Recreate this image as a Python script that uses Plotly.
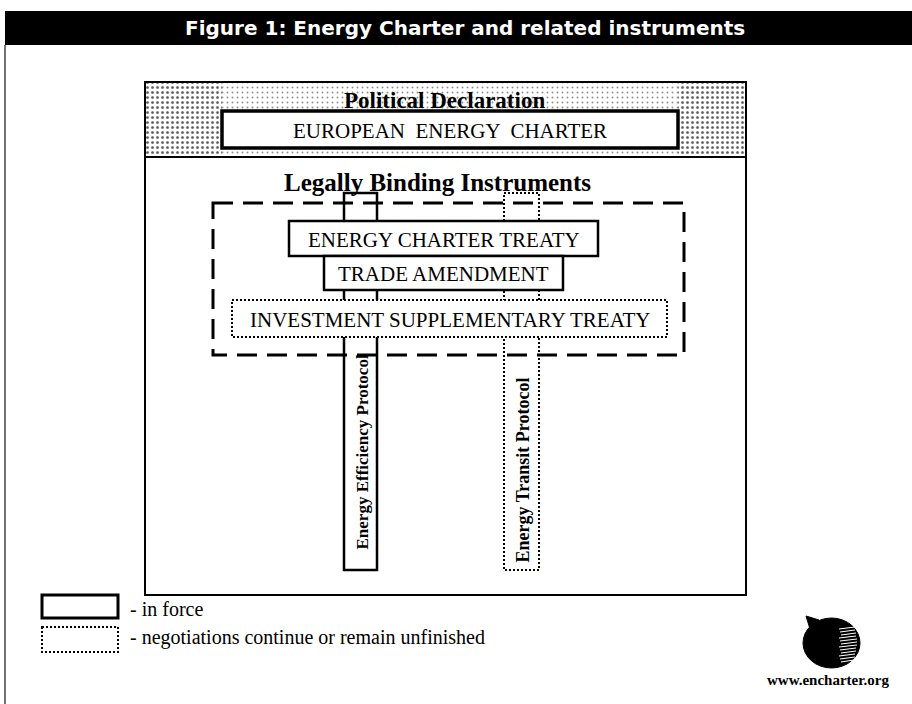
import plotly.graph_objects as go

# ---- content (texts) ----
title_text = "Figure 1: Energy Charter and related instruments"
declaration_label = "Political Declaration"
charter_label = "EUROPEAN  ENERGY  CHARTER"
binding_label = "Legally Binding Instruments"
instrument_labels = ["ENERGY CHARTER TREATY", "TRADE AMENDMENT", "INVESTMENT SUPPLEMENTARY TREATY"]
instrument_status = ["in force", "in force", "unfinished"]
protocol_labels = ["Energy Efficiency Protocol", "Energy Transit Protocol"]
protocol_status = ["in force", "unfinished"]
legend_status = ["in force", "unfinished"]
legend_labels = ["- in force", "- negotiations continue or remain unfinished"]
url_label = "www.encharter.org"

# ---- geometry (pixel layout of the diagram) ----
W, H = 912, 704
main_box = (145, 82, 746, 595)
band_bottom = 157
charter_box = (222, 111, 678, 148)
binding_y = 182
dashed_box = (213, 203, 684, 355)
instrument_boxes = [(289, 221, 598, 256), (324, 256, 563, 290), (232, 300, 667, 337)]
protocol_cols = [(344, 193, 377, 570), (504, 193, 539, 570)]
protocol_text_y = [452, 470]
protocol_font = [17, 18]
legend_boxes = [(42, 595, 118, 618), (42, 627, 118, 652)]
legend_text_y = [609, 637]
logo_box = (803, 618, 860, 668)

SERIF = "Liberation Serif, Times New Roman, serif"

shapes = []
annotations = []


def line_style(status, width=2.5):
    if status == "in force":
        return dict(color="black", width=width, dash="solid")
    return dict(color="black", width=2, dash="2px,2px")


# frame: title bar + left rule
shapes.append(dict(type="rect", x0=5, y0=11, x1=W, y1=45, fillcolor="black", line=dict(width=0), layer="below"))
shapes.append(dict(type="line", x0=5, y0=45, x1=5, y1=H, line=dict(color="#444", width=1.5)))

annotations.append(dict(x=465, y=28, text="<b>" + title_text + "</b>", showarrow=False,
                        font=dict(family="DejaVu Sans, sans-serif", size=20, color="white"),
                        xanchor="center", yanchor="middle"))

# main box and the political declaration band
mx0, my0, mx1, my1 = main_box
shapes.append(dict(type="rect", x0=mx0, y0=my0, x1=mx1, y1=my1, line=dict(color="black", width=2),
                   fillcolor="rgba(0,0,0,0)", layer="above"))
shapes.append(dict(type="line", x0=mx0, y0=band_bottom, x1=mx1, y1=band_bottom, line=dict(color="black", width=2)))

# speckled texture of the band via bar patterns
fig = go.Figure()
band_parts = [
    (mx0, mx1, 0.12),
    (mx0, charter_box[0], 0.3),
    (charter_box[2], mx1, 0.3),
]
for bx0, bx1, sol in band_parts:
    fig.add_trace(go.Bar(x=[(bx0 + bx1) / 2], y=[band_bottom - my0], base=[my0], width=[bx1 - bx0],
                         marker=dict(color="white", line=dict(width=0),
                                     pattern=dict(shape=".", fgcolor="#222", bgcolor="rgba(0,0,0,0)",
                                                  size=5, solidity=sol)),
                         hoverinfo="skip", showlegend=False))

cx0, cy0, cx1, cy1 = charter_box
shapes.append(dict(type="rect", x0=cx0, y0=cy0, x1=cx1, y1=cy1, fillcolor="white",
                   line=dict(color="black", width=3.5), layer="above"))
annotations.append(dict(x=(cx0 + cx1) / 2, y=(cy0 + cy1) / 2 + 1, text=charter_label, showarrow=False,
                        font=dict(family=SERIF, size=21, color="black"), xanchor="center", yanchor="middle"))
annotations.append(dict(x=444, y=100, text="<b>" + declaration_label + "</b>", showarrow=False,
                        font=dict(family=SERIF, size=23, color="black"), xanchor="center", yanchor="middle"))

annotations.append(dict(x=437, y=binding_y, text="<b>" + binding_label + "</b>", showarrow=False,
                        font=dict(family=SERIF, size=25, color="black"), xanchor="center", yanchor="middle"))

# protocol columns (drawn first, boxes cover them)
for (px0, py0, px1, py1), st, lab, ty, fs in zip(protocol_cols, protocol_status, protocol_labels,
                                                  protocol_text_y, protocol_font):
    shapes.append(dict(type="rect", x0=px0, y0=py0, x1=px1, y1=py1, fillcolor="rgba(0,0,0,0)",
                       line=line_style(st, 2.5), layer="above"))
    annotations.append(dict(x=(px0 + px1) / 2 + 1, y=ty, text="<b>" + lab + "</b>", textangle=-90,
                            showarrow=False, font=dict(family=SERIF, size=fs, color="black"),
                            xanchor="center", yanchor="middle"))

# dashed legally-binding frame
dx0, dy0, dx1, dy1 = dashed_box
shapes.append(dict(type="rect", x0=dx0, y0=dy0, x1=dx1, y1=dy1, fillcolor="rgba(0,0,0,0)",
                   line=dict(color="black", width=3, dash="20px,10px"), layer="above"))

# instrument boxes
for (bx0, by0, bx1, by1), st, lab in zip(instrument_boxes, instrument_status, instrument_labels):
    shapes.append(dict(type="rect", x0=bx0, y0=by0, x1=bx1, y1=by1, fillcolor="white",
                       line=line_style(st, 2.5), layer="above"))
    annotations.append(dict(x=(bx0 + bx1) / 2, y=(by0 + by1) / 2 + 1, text=lab, showarrow=False,
                            font=dict(family=SERIF, size=21, color="black"),
                            xanchor="center", yanchor="middle"))

# legend
for (lx0, ly0, lx1, ly1), st, lab, ty in zip(legend_boxes, legend_status, legend_labels, legend_text_y):
    shapes.append(dict(type="rect", x0=lx0, y0=ly0, x1=lx1, y1=ly1, fillcolor="white",
                       line=line_style(st, 3), layer="above"))
    annotations.append(dict(x=lx1 + 10, y=ty, text=lab, showarrow=False,
                            font=dict(family=SERIF, size=20, color="black"),
                            xanchor="left", yanchor="middle"))

# logo
gx0, gy0, gx1, gy1 = logo_box
shapes.append(dict(type="circle", x0=gx0, y0=gy0, x1=gx1, y1=gy1, fillcolor="black",
                   line=dict(color="black", width=1), layer="above"))
shapes.append(dict(type="path", path=f"M {gx0 + 3} {gy0 - 2} L {gx0 + 16} {gy0 + 2} L {gx0 + 7} {gy0 + 11} Z",
                   fillcolor="black", line=dict(color="black", width=1), layer="above"))
for i, yy in enumerate(range(gy0 + 10, gy1 - 6, 3)):
    shapes.append(dict(type="line", x0=gx0 + 36 + (i % 3), y0=yy + 1, x1=gx1 - 3 - abs(i - 5) // 2, y1=yy - 1,
                       line=dict(color="white", width=1), layer="above"))
annotations.append(dict(x=828, y=680, text="<b>" + url_label + "</b>", showarrow=False,
                        font=dict(family=SERIF, size=15, color="black"), xanchor="center", yanchor="middle"))

fig.update_layout(
    width=W, height=H, margin=dict(l=0, r=0, t=0, b=0),
    paper_bgcolor="white", plot_bgcolor="white",
    xaxis=dict(range=[0, W], visible=False, fixedrange=True),
    yaxis=dict(range=[H, 0], visible=False, fixedrange=True),
    shapes=shapes, annotations=annotations, bargap=0, barmode="overlay",
    showlegend=False,
)
fig.write_html("out.html", config={"displayModeBar": False},
               post_script="document.body.style.margin='0px';document.body.style.overflow='hidden';")
